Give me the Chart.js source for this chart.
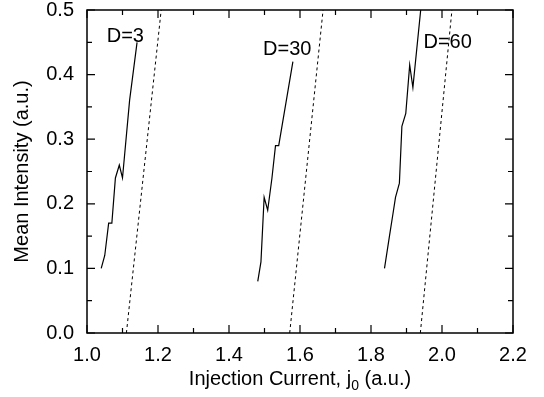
<!DOCTYPE html>
<html lang="en">
<head>
  <meta charset="UTF-8" />
  <title>Mean Intensity vs Injection Current</title>
  <script src="https://cdn.jsdelivr.net/npm/chart.js"></script>
  <style>
    body { margin: 0; background: #fff; }
    #chart { display: block; }
  </style>
</head>
<body>
  <canvas id="chart" width="544" height="397"></canvas>
  <script>
    // solid curves (simulation)
    const d3X  = [1.040, 1.050, 1.061, 1.070, 1.080, 1.091, 1.100, 1.120, 1.141];
    const d3Y  = [0.10, 0.12, 0.17, 0.17, 0.24, 0.26, 0.24, 0.36, 0.45];
    const d30X = [1.481, 1.490, 1.499, 1.509, 1.521, 1.531, 1.540, 1.580];
    const d30Y = [0.08, 0.11, 0.21, 0.19, 0.24, 0.29, 0.29, 0.42];
    const d60X = [1.838, 1.852, 1.862, 1.869, 1.880, 1.887, 1.898, 1.909, 1.918, 1.940];
    const d60Y = [0.10, 0.15, 0.185, 0.21, 0.232, 0.32, 0.34, 0.415, 0.38, 0.50];

    // dotted lines (theory)
    const t3X  = [1.111, 1.209];
    const t30X = [1.571, 1.665];
    const t60X = [1.939, 2.028];
    const tY   = [0.0, 0.5];

    const labelText = ["D=3", "D=30", "D=60"];
    const labelX = [1.108, 1.564, 2.016];
    const labelY = [0.459, 0.439, 0.449];

    const xTicks = [1.0, 1.1, 1.2, 1.3, 1.4, 1.5, 1.6, 1.7, 1.8, 1.9, 2.0, 2.1, 2.2];
    const yTicks = [0.0, 0.05, 0.1, 0.15, 0.2, 0.25, 0.3, 0.35, 0.4, 0.45, 0.5];

    const FONT = "'Liberation Sans', Arial, sans-serif";

    function pts(xs, ys) {
      return xs.map((x, i) => ({ x: x, y: ys[i] }));
    }
    function solid(xs, ys) {
      return { data: pts(xs, ys), borderColor: "#000", borderWidth: 1.2, pointRadius: 0, fill: false, tension: 0 };
    }
    function dotted(xs) {
      return { data: pts(xs, tY), borderColor: "#000", borderWidth: 1, borderDash: [3, 3], pointRadius: 0, fill: false };
    }

    const framePlugin = {
      id: "frame",
      afterDatasetsDraw(chart) {
        const ctx = chart.ctx;
        const a = chart.chartArea;
        const xs = chart.scales.x, ys = chart.scales.y;
        ctx.save();
        ctx.strokeStyle = "#000";
        ctx.lineWidth = 1.5;
        ctx.strokeRect(a.left, a.top, a.right - a.left, a.bottom - a.top);
        ctx.lineWidth = 1.2;
        ctx.beginPath();
        xTicks.forEach((v, i) => {
          const px = xs.getPixelForValue(v);
          const len = i % 2 === 0 ? 8 : 5;
          ctx.moveTo(px, a.bottom); ctx.lineTo(px, a.bottom - len);
          ctx.moveTo(px, a.top); ctx.lineTo(px, a.top + len);
        });
        yTicks.forEach((v, i) => {
          const py = ys.getPixelForValue(v);
          const len = i % 2 === 0 ? 8 : 5;
          ctx.moveTo(a.left, py); ctx.lineTo(a.left + len, py);
          ctx.moveTo(a.right, py); ctx.lineTo(a.right - len, py);
        });
        ctx.stroke();

        // curve labels
        ctx.fillStyle = "#000";
        ctx.font = "20px " + FONT;
        ctx.textAlign = "center";
        ctx.textBaseline = "middle";
        labelText.forEach((t, i) => {
          ctx.fillText(t, xs.getPixelForValue(labelX[i]), ys.getPixelForValue(labelY[i]));
        });

        // x axis title with subscript
        ctx.textAlign = "left";
        ctx.textBaseline = "alphabetic";
        const p1 = "Injection Current, j", p2 = "0", p3 = " (a.u.)";
        ctx.font = "20px " + FONT;
        const w1 = ctx.measureText(p1).width, w3 = ctx.measureText(p3).width;
        ctx.font = "14px " + FONT;
        const w2 = ctx.measureText(p2).width;
        let x0 = (a.left + a.right) / 2 - (w1 + w2 + w3) / 2;
        const base = 385;
        ctx.font = "20px " + FONT;
        ctx.fillText(p1, x0, base);
        ctx.font = "14px " + FONT;
        ctx.fillText(p2, x0 + w1, base + 5);
        ctx.font = "20px " + FONT;
        ctx.fillText(p3, x0 + w1 + w2, base);

        // y axis title
        ctx.translate(28, (a.top + a.bottom) / 2);
        ctx.rotate(-Math.PI / 2);
        ctx.textAlign = "center";
        ctx.fillText("Mean Intensity (a.u.)", 0, 0);
        ctx.restore();
      }
    };

    new Chart(document.getElementById("chart"), {
      type: "line",
      data: {
        datasets: [
          solid(d3X, d3Y), solid(d30X, d30Y), solid(d60X, d60Y),
          dotted(t3X), dotted(t30X), dotted(t60X)
        ]
      },
      options: {
        responsive: false,
        animation: false,
        layout: { padding: { top: 10, right: 31, left: 0, bottom: 0 } },
        plugins: { legend: { display: false }, tooltip: { enabled: false } },
        scales: {
          x: {
            type: "linear",
            min: 1.0, max: 2.2,
            grid: { display: false, drawTicks: false },
            border: { display: false },
            ticks: {
              stepSize: 0.2,
              padding: 10,
              color: "#000",
              font: { family: FONT, size: 20 },
              callback: v => v.toFixed(1)
            },
            afterFit: s => { s.height = 64; s.paddingLeft = 0; s.paddingRight = 0; }
          },
          y: {
            type: "linear",
            min: 0, max: 0.5,
            grid: { display: false, drawTicks: false },
            border: { display: false },
            ticks: {
              stepSize: 0.1,
              padding: 13,
              color: "#000",
              font: { family: FONT, size: 20 },
              callback: v => v.toFixed(1)
            },
            afterFit: s => { s.width = 87; s.paddingTop = 0; s.paddingBottom = 0; }
          }
        }
      },
      plugins: [framePlugin]
    });
  </script>
</body>
</html>
